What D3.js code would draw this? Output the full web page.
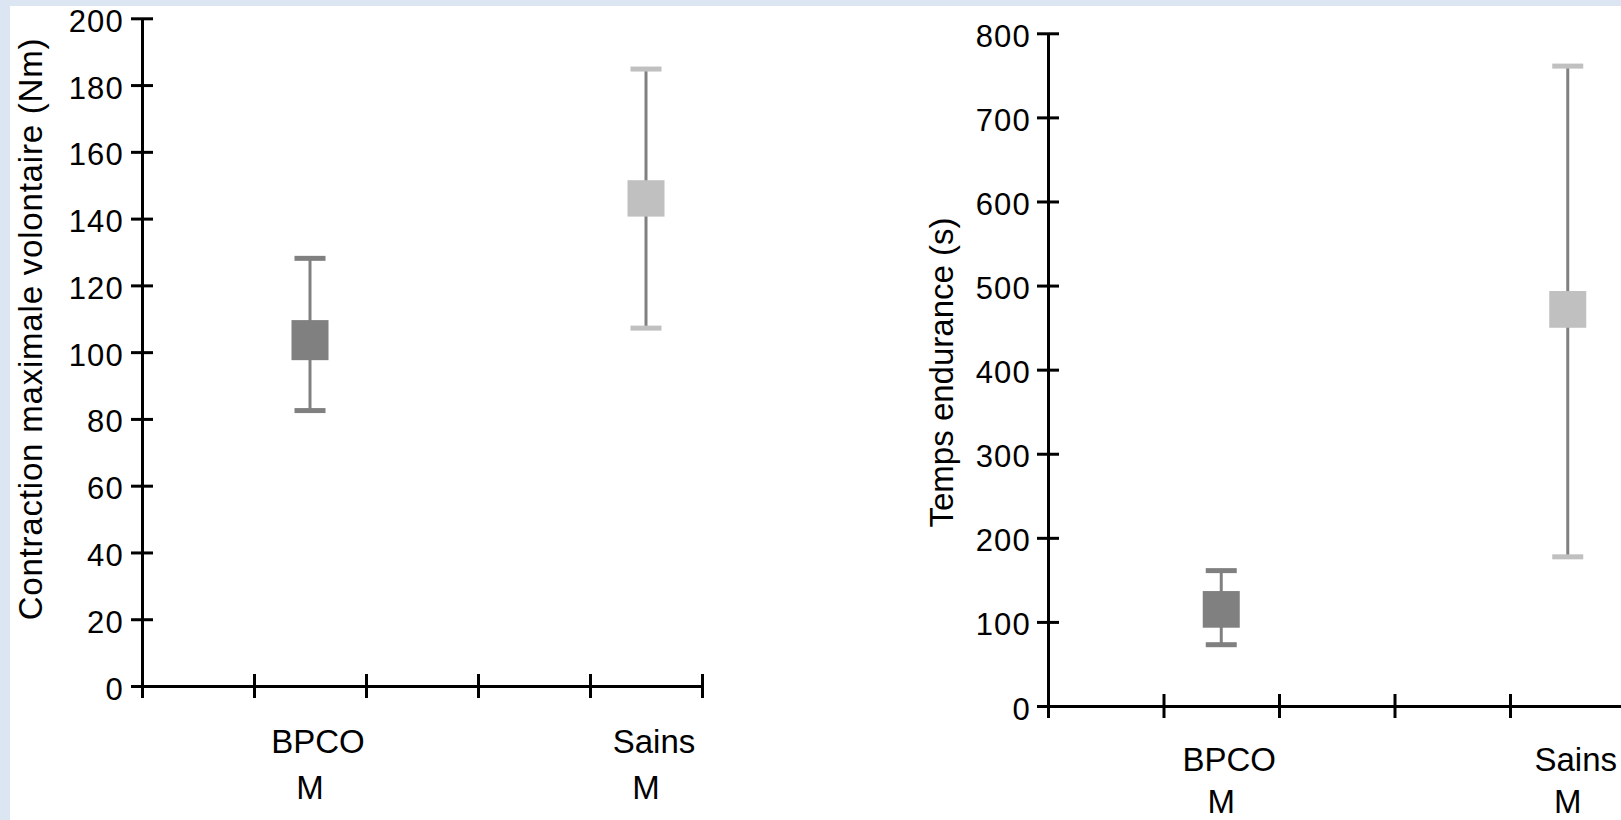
<!DOCTYPE html>
<html><head><meta charset="utf-8">
<script src="https://cdn.jsdelivr.net/npm/d3@7"></script>
<style>
html,body{margin:0;padding:0;background:#dce6f2;overflow:hidden}
svg{display:block}
text{font-family:"Liberation Sans",Arial,sans-serif;fill:#000}
</style></head><body>
<svg id="c" width="1621" height="820"></svg>
<script>
// ---- data ----
const groups = ["BPCO", "Sains"];
const groupSub = ["M", "M"];
const groupSlot = [1, 4];           // slot index on a 5-slot category axis
const slotCount = 5;
const boxColors = ["#808080", "#c0c0c0"];

const cmvTitle = "Contraction maximale volontaire (Nm)";
const cmvTicks = [0, 20, 40, 60, 80, 100, 120, 140, 160, 180, 200];
const cmvLow = [82.5, 107.2];
const cmvBoxLow = [97.6, 140.6];
const cmvBoxHigh = [109.6, 151.5];
const cmvHigh = [128.1, 184.8];

const endTitle = "Temps endurance (s)";
const endTicks = [0, 100, 200, 300, 400, 500, 600, 700, 800];
const endLow = [72.9, 177.4];
const endBoxLow = [93.1, 449.8];
const endBoxHigh = [136.7, 493.5];
const endHigh = [161, 761];

// ---- drawing ----
const svg = d3.select("#c");
svg.append("rect").attr("x", 10).attr("y", 6).attr("width", 1611).attr("height", 814).attr("fill", "#fff");

function panel(cfg) {
  const g = svg.append("g");
  const x = d3.scaleLinear().domain([0, slotCount]).range(cfg.xr);
  const y = d3.scaleLinear().domain([0, d3.max(cfg.ticks)]).range(cfg.yr);
  const x0 = cfg.xr[0], yb = cfg.yr[0];

  // y axis
  const ya = g.append("g").attr("transform", `translate(${x0},0)`)
    .call(d3.axisLeft(y).tickValues(cfg.ticks).tickSize(11).tickSizeOuter(0).tickPadding(cfg.pad).tickFormat(d3.format("d")));
  ya.selectAll(".tick line").attr("x1", d => d === 0 ? 0 : 11).attr("stroke", "#000").attr("stroke-width", 3);
  ya.select(".domain").attr("stroke", "#000").attr("stroke-width", 3);
  ya.selectAll(".tick text").attr("font-size", 31).attr("letter-spacing", 1.2)
    .attr("font-family", '"Liberation Sans",Arial,sans-serif').attr("dy", "0.42em").attr("fill", "#000");

  // x axis
  const xa = g.append("g").attr("transform", `translate(0,${yb})`)
    .call(d3.axisBottom(x).tickValues(d3.range(slotCount + 1)).tickSize(12).tickSizeOuter(0).tickFormat(""));
  xa.selectAll(".tick line").attr("y1", -12).attr("stroke", "#000").attr("stroke-width", 3);
  xa.select(".domain").attr("stroke", "#000").attr("stroke-width", 3);

  // y title
  g.append("text").attr("transform", `translate(${cfg.titleX},${cfg.titleY}) rotate(-90)`)
    .attr("text-anchor", "middle").attr("font-size", 33).attr("letter-spacing", cfg.ls).text(cfg.title);

  const cx = i => x(groupSlot[i] + 0.5);
  const idx = d3.range(groups.length);
  // whiskers
  g.selectAll(".wh").data(idx).join("line")
    .attr("x1", cx).attr("x2", cx)
    .attr("y1", i => y(cfg.low[i])).attr("y2", i => y(cfg.high[i]))
    .attr("stroke", "#808080").attr("stroke-width", 3);
  // caps
  [cfg.low, cfg.high].forEach(arr => {
    g.selectAll(null).data(idx).join("rect")
      .attr("x", i => cx(i) - 15.5).attr("width", 31)
      .attr("y", i => y(arr[i]) - 2.5).attr("height", 5)
      .attr("fill", i => boxColors[i]);
  });
  // boxes
  g.selectAll(".bx").data(idx).join("rect")
    .attr("x", i => cx(i) - 18.5).attr("width", 37)
    .attr("y", i => y(cfg.boxHigh[i])).attr("height", i => y(cfg.boxLow[i]) - y(cfg.boxHigh[i]))
    .attr("fill", i => boxColors[i]);
  // category labels
  g.selectAll(".c1").data(idx).join("text")
    .attr("x", i => cx(i) + 8).attr("y", yb + cfg.l1).attr("text-anchor", "middle").attr("font-size", 33)
    .text(i => groups[i]);
  g.selectAll(".c2").data(idx).join("text")
    .attr("x", cx).attr("y", yb + cfg.l2).attr("text-anchor", "middle").attr("font-size", 33)
    .text(i => groupSub[i]);
}

panel({ xr: [142, 702], yr: [686, 18.3], ticks: cmvTicks, low: cmvLow, boxLow: cmvBoxLow, boxHigh: cmvBoxHigh, high: cmvHigh,
        title: cmvTitle, titleX: 41.5, titleY: 329, ls: 0.8, pad: 7, l1: 67, l2: 113 });
panel({ xr: [1048, 1625.5], yr: [706, 33.3], ticks: endTicks, low: endLow, boxLow: endBoxLow, boxHigh: endBoxHigh, high: endHigh,
        title: endTitle, titleX: 953, titleY: 372.5, ls: 0, pad: 6, l1: 65, l2: 107 });
</script>
</body></html>
